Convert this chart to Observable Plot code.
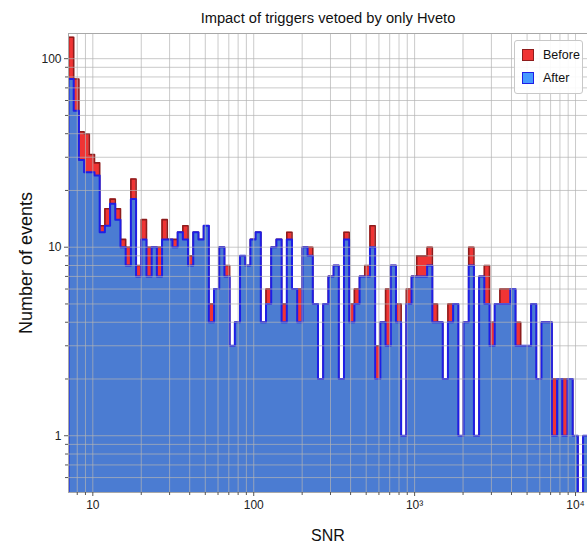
<!DOCTYPE html>
<html><head><meta charset="utf-8">
<script src="https://cdn.jsdelivr.net/npm/d3@7"></script>
<script src="https://cdn.jsdelivr.net/npm/@observablehq/plot@0.6"></script>
<style>
body{margin:0;background:#fff;font-family:"Liberation Sans",Arial,Helvetica,sans-serif;}
#wrap{position:relative;width:587px;height:546px;overflow:hidden;}
#legend{position:absolute;left:514px;top:40px;width:69px;height:54px;box-sizing:border-box;border:1px solid #c8c8c8;border-radius:3px;background:rgba(255,255,255,0.9);}
.lg{position:absolute;left:7px;display:flex;align-items:center;font-size:12.5px;color:#111;}
.sw{width:10px;height:10px;margin-right:9px;border:1.5px solid;}
</style></head><body><div id="wrap"></div>
<script>
// ---- data ----
const chartTitle = "Impact of triggers vetoed by only Hveto";
const xLabel = "SNR";
const yLabel = "Number of events";
const seriesNames = ["Before", "After"];
const snrMin = 7.06, snrMax = 12000, nBins = 100;
const beforeCounts = [130,78,41,40,31,28,13,16,18,16,11,10,23,8,14,10,10,10,14,11,
  11,12,13,9,12,11,13,5,6,10,8,3,4,9,8,11,12,4,6,10,
  11,5,12,6,6,10,10,5,2,5,7,8,2,12,5,6,7,8,13,3,
  4,6,8,5,1,6,7,9,9,10,5,4,2,5,5,1,4,10,1,7,
  8,4,5,6,6,6,4,3,3,5,2,4,4,2,2,2,2,1,0,1];
const afterCounts = [78,53,29,25,25,24,12,13,17,14,10,8,18,7,11,7,10,7,11,11,
  10,12,11,8,12,11,13,4,6,10,7,3,4,9,8,11,12,4,5,10,
  11,4,11,6,4,10,9,5,2,5,7,8,2,11,4,5,7,7,10,2,
  4,3,8,4,1,5,7,7,7,8,4,4,2,4,5,1,4,8,1,7,
  5,3,5,5,5,6,3,3,3,5,2,4,4,1,2,1,2,1,0,1];
const xTickValues = [10, 100, 1000, 10000];
const xTickLabels = ["10", "100", "10\u00b3", "10\u2074"];
const yTickValues = [1, 10, 100];
const yTickLabels = ["1", "10", "100"];
const xMinorTicks = [8,9,20,30,40,50,60,70,80,90,200,300,400,500,600,700,800,900,2000,3000,4000,5000,6000,7000,8000,9000];
const yMinorTicks = [0.6,0.7,0.8,0.9,2,3,4,5,6,7,8,9,20,30,40,50,60,70,80,90];
const xDomain = [7.06, 11870];
const yDomain = [0.5, 136];
const colors = {beforeFill:"#f03434", beforeEdge:"#8e1c1c", afterFill:"#4b7cd2", afterEdge:"#1e1ee6", legendAfter:"#4699ff"};

// ---- bins ----
const lo = Math.log10(snrMin), hi = Math.log10(snrMax);
const edges = d3.range(nBins + 1).map(i => 10 ** (lo + i * (hi - lo) / nBins));
const floorVal = 0.3;
function stepPoints(counts) {
  const pts = [{x: edges[0], y: floorVal}];
  counts.forEach((c, i) => pts.push({x: edges[i], y: c > 0 ? c : floorVal}));
  const last = counts[counts.length - 1];
  pts.push({x: edges[nBins], y: last > 0 ? last : floorVal});
  pts.push({x: edges[nBins], y: floorVal});
  return pts;
}
const beforePts = stepPoints(beforeCounts);
const afterPts = stepPoints(afterCounts);
const font = "'Liberation Sans', Arial, Helvetica, sans-serif";

const chart = Plot.plot({
  width: 587, height: 546,
  marginTop: 33, marginBottom: 54, marginLeft: 68, marginRight: 0,
  x: {type: "log", domain: xDomain},
  y: {type: "log", domain: yDomain},
  style: {fontFamily: font, background: "white", color: "#222"},
  marks: [
    Plot.areaY(beforePts, {x: "x", y1: floorVal, y2: "y", curve: "step-after", fill: colors.beforeFill, clip: true}),
    Plot.line(beforePts, {x: "x", y: "y", curve: "step-after", stroke: colors.beforeEdge, strokeWidth: 1.6, clip: true}),
    Plot.areaY(afterPts, {x: "x", y1: floorVal, y2: "y", curve: "step-after", fill: colors.afterFill, clip: true}),
    Plot.line(afterPts, {x: "x", y: "y", curve: "step-after", stroke: colors.afterEdge, strokeWidth: 2, clip: true}),
    Plot.gridX(xTickValues.concat(xMinorTicks), {stroke: "#b4b4b4", strokeOpacity: 0.7, strokeWidth: 1}),
    Plot.gridY(yTickValues.concat(yMinorTicks), {stroke: "#b4b4b4", strokeOpacity: 0.7, strokeWidth: 1}),
    Plot.frame({stroke: "#a8a8a8"}),
    Plot.axisX(xTickValues, {tickSize: 4, tickPadding: 4, fontSize: 12, label: null, stroke: "#555",
      tickFormat: d => xTickLabels[xTickValues.indexOf(d)]}),
    Plot.axisX(xMinorTicks, {tickSize: 3, fill: "none", label: null, stroke: "#555"}),
    Plot.axisY(yTickValues, {tickSize: 4, tickPadding: 3, fontSize: 12, label: null, stroke: "#555",
      tickFormat: d => yTickLabels[yTickValues.indexOf(d)]}),
    Plot.axisY(yMinorTicks, {tickSize: 3, fill: "none", label: null, stroke: "#555"}),
    Plot.text([chartTitle], {frameAnchor: "top", dy: -15, fontSize: 14.7, fill: "#111", textAnchor: "middle", lineAnchor: "middle"}),
    Plot.text([xLabel], {frameAnchor: "bottom", dy: 43, fontSize: 16, fill: "#111", textAnchor: "middle", lineAnchor: "middle"}),
    Plot.text([yLabel], {frameAnchor: "left", dx: -42, rotate: -90, fontSize: 18, fill: "#111", textAnchor: "middle", lineAnchor: "middle"})
  ]
});
const wrap = document.getElementById("wrap");
wrap.appendChild(chart);
const lg = document.createElement("div");
lg.id = "legend";
lg.innerHTML = `
  <div class="lg" style="top:7px"><span class="sw" style="background:${colors.beforeFill};border-color:${colors.beforeEdge}"></span>${seriesNames[0]}</div>
  <div class="lg" style="top:30px"><span class="sw" style="background:${colors.legendAfter};border-color:${colors.afterEdge}"></span>${seriesNames[1]}</div>`;
wrap.appendChild(lg);
</script>
</body></html>
